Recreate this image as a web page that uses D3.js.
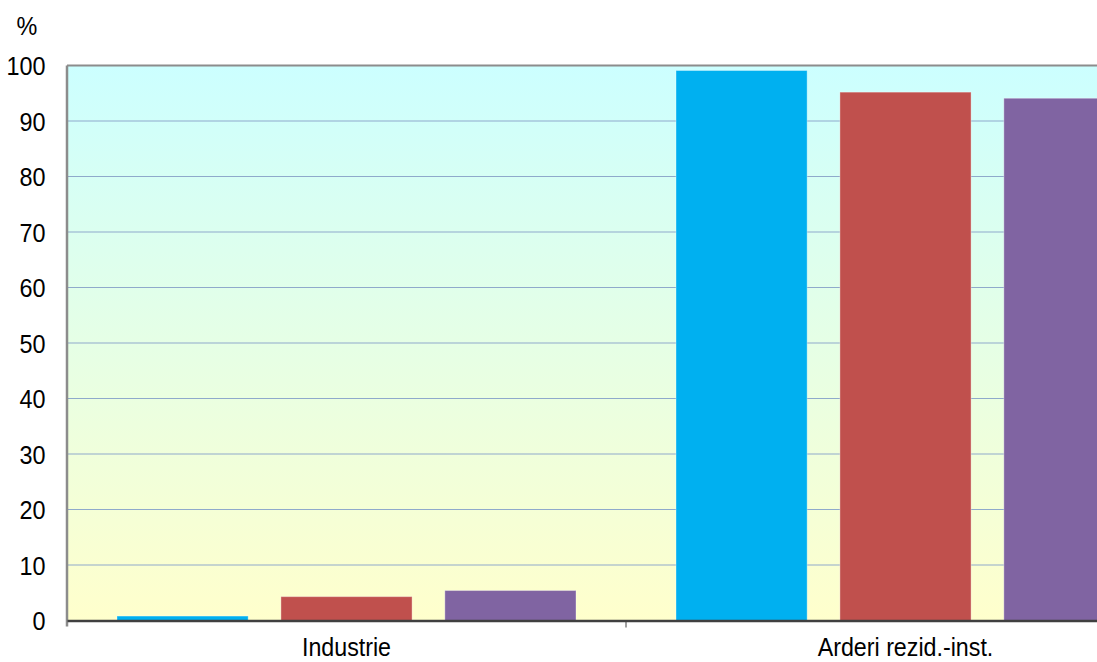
<!DOCTYPE html>
<html>
<head>
<meta charset="utf-8">
<script src="https://cdn.jsdelivr.net/npm/d3@7"></script>
<style>
  html, body { margin: 0; padding: 0; background: #fff; overflow: hidden; }
  svg { display: block; font-family: Arial, "Liberation Sans", sans-serif; }
</style>
</head>
<body>
<svg id="chart" width="1097" height="662"></svg>
<script>
// Categories, series and axis ticks
const categories = ["Industrie", "Arderi rezid.-inst."];
const seriesNames = ["s1", "s2", "s3"];
const series1 = [0.8, 99.1];
const series2 = [4.3, 95.2];
const series3 = [5.4, 94.1];
const yTicks = [0, 10, 20, 30, 40, 50, 60, 70, 80, 90, 100];
const seriesColors = ["#00B0F0", "#C0504D", "#8064A2"];

const svg = d3.select("#chart");
const margin = { left: 67, top: 65.5 };
const plotW = 1118, plotH = 555;
const sx = 0.9;          // horizontal squeeze applied to labels
const fontSize = 26;
const catSx = 0.93, catFont = 25;

const x = d3.scaleBand().domain(categories).range([0, plotW]).paddingInner(0).paddingOuter(0);
const xs = d3.scaleBand().domain(seriesNames).range([50, x.bandwidth() - 50]).paddingInner(0.2).paddingOuter(0);
const y = d3.scaleLinear().domain([0, 100]).range([plotH, 0]);

const defs = svg.append("defs");
const grad = defs.append("linearGradient").attr("id", "bg").attr("x1", 0).attr("y1", 0).attr("x2", 0).attr("y2", 1);
grad.append("stop").attr("offset", "0%").attr("stop-color", "#CCFFFF");
grad.append("stop").attr("offset", "100%").attr("stop-color", "#FFFFCC");

const g = svg.append("g").attr("transform", `translate(${margin.left},${margin.top})`);

g.append("rect").attr("width", plotW).attr("height", plotH).attr("fill", "url(#bg)");

// gridlines
g.append("g").selectAll("line").data(yTicks.filter(d => d > 0 && d < 100)).join("line")
  .attr("x1", 0).attr("x2", plotW)
  .attr("y1", d => y(d)).attr("y2", d => y(d))
  .attr("stroke", "#8FAACB").attr("stroke-width", 1.2);

// top border
g.append("line").attr("x1", 0).attr("x2", plotW).attr("y1", 0).attr("y2", 0)
  .attr("stroke", "#8C8C8C").attr("stroke-width", 2);

// bars
const data = [series1, series2, series3];
data.forEach((vals, si) => {
  g.append("g").selectAll("rect").data(vals).join("rect")
    .attr("x", (d, i) => x(categories[i]) + xs(seriesNames[si]))
    .attr("y", d => y(d))
    .attr("width", xs.bandwidth())
    .attr("height", d => plotH - y(d))
    .attr("fill", seriesColors[si])
    .attr("stroke", "rgba(255,255,255,0.35)").attr("stroke-width", 1);
});

// y axis
const yAxis = g.append("g").call(d3.axisLeft(y).tickValues(yTicks).tickSize(0));
yAxis.select(".domain").attr("stroke", "#8C8C8C").attr("stroke-width", 2.5).attr("d", `M0,0V${plotH + 6}`);
yAxis.selectAll("text")
  .attr("font-size", fontSize + "px").attr("fill", "#000")
  .attr("font-family", "Arial, 'Liberation Sans', sans-serif")
  .attr("x", -21.5 / sx).attr("dy", "0.35em")
  .attr("transform", `scale(${sx},1)`);

// x axis
const xAxis = g.append("g").attr("transform", `translate(0,${plotH})`)
  .call(d3.axisBottom(x).tickSize(0).tickFormat(""));
xAxis.select(".domain").attr("stroke", "#404040").attr("stroke-width", 2.5);

// category labels
svg.append("g").selectAll("text").data(categories).join("text")
  .attr("x", d => (margin.left + x(d) + x.bandwidth() / 2) / catSx)
  .attr("y", 656.5)
  .attr("transform", `scale(${catSx},1)`)
  .attr("text-anchor", "middle")
  .attr("font-size", catFont + "px").attr("fill", "#000")
  .text(d => d);

// category separators
g.append("g").selectAll("line").data(categories.slice(1)).join("line")
  .attr("x1", d => x(d)).attr("x2", d => x(d))
  .attr("y1", plotH).attr("y2", plotH + 7)
  .attr("stroke", "#404040").attr("stroke-width", 1);

// unit label
svg.append("text").attr("x", 27 / sx).attr("y", 35).attr("text-anchor", "middle")
  .attr("transform", `scale(${sx},1)`)
  .attr("font-size", fontSize + "px").attr("fill", "#000").text("%");
</script>
</body>
</html>
